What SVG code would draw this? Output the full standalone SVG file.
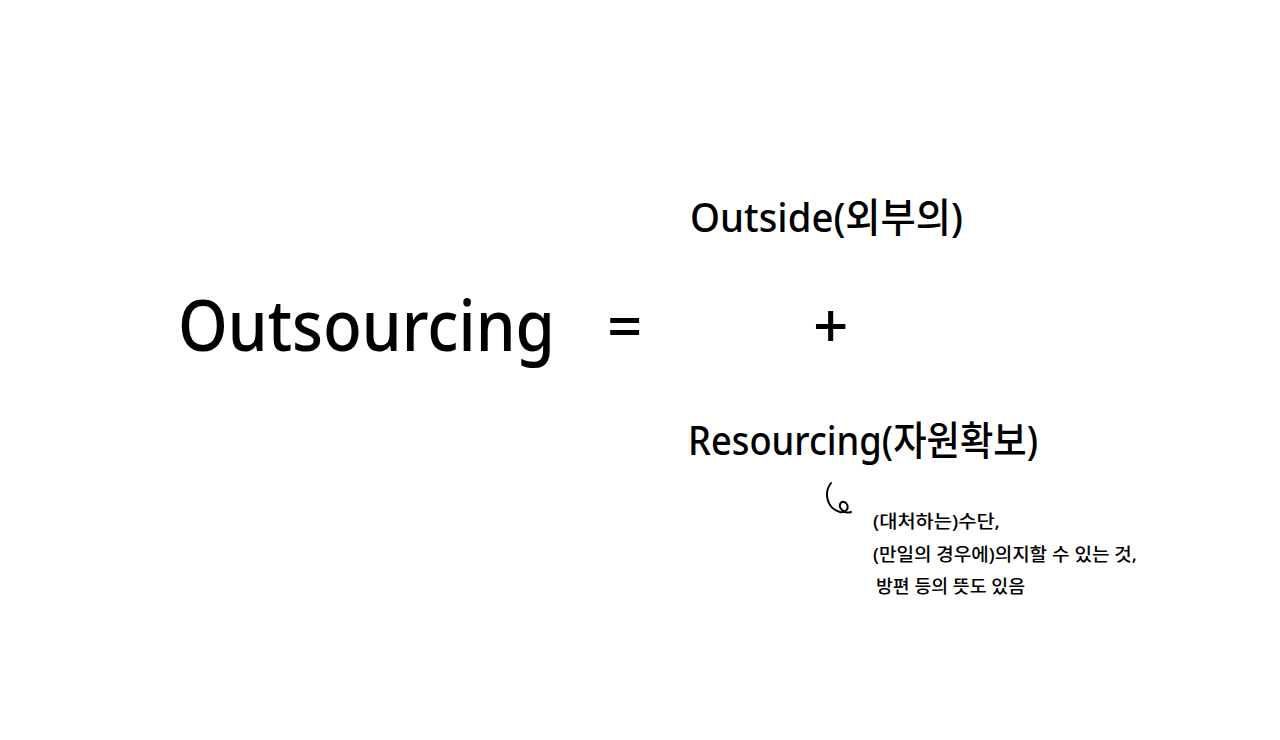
<svg xmlns="http://www.w3.org/2000/svg" width="1280" height="740" viewBox="0 0 1280 740">
<style>
text{font-family:"Noto Sans","Noto Sans CJK KR",sans-serif;fill:#000}
.big{font-size:70px;font-weight:500}
.op{font-size:62px;font-weight:500}
.mid{font-size:40px;font-weight:500}
.sm{font-size:18px;font-weight:500}
</style>
<rect width="1280" height="740" fill="#fff"/>
<text class="big" x="178" y="351" textLength="377" lengthAdjust="spacingAndGlyphs">Outsourcing</text>
<text class="op" x="607" y="348">=</text>
<text class="op" x="813" y="348">+</text>
<text class="mid" x="690" y="232" textLength="273" lengthAdjust="spacingAndGlyphs">Outside(외부의)</text>
<text class="mid" x="688" y="455" textLength="350" lengthAdjust="spacingAndGlyphs">Resourcing(자원확보)</text>
<path d="M831,483 C824,492 826,508 840,512 C846,513 850,508 846,503 C842,499 837,505 842,510 C845,513 849,513 851,512" fill="none" stroke="#000" stroke-width="2" stroke-linecap="round"/>
<text class="sm" x="873" y="528" textLength="127" lengthAdjust="spacingAndGlyphs">(대처하는)수단,</text>
<text class="sm" x="873" y="561" textLength="264" lengthAdjust="spacingAndGlyphs">(만일의 경우에)의지할 수 있는 것,</text>
<text class="sm" x="876" y="593" textLength="149" lengthAdjust="spacingAndGlyphs">방편 등의 뜻도 있음</text>
</svg>
